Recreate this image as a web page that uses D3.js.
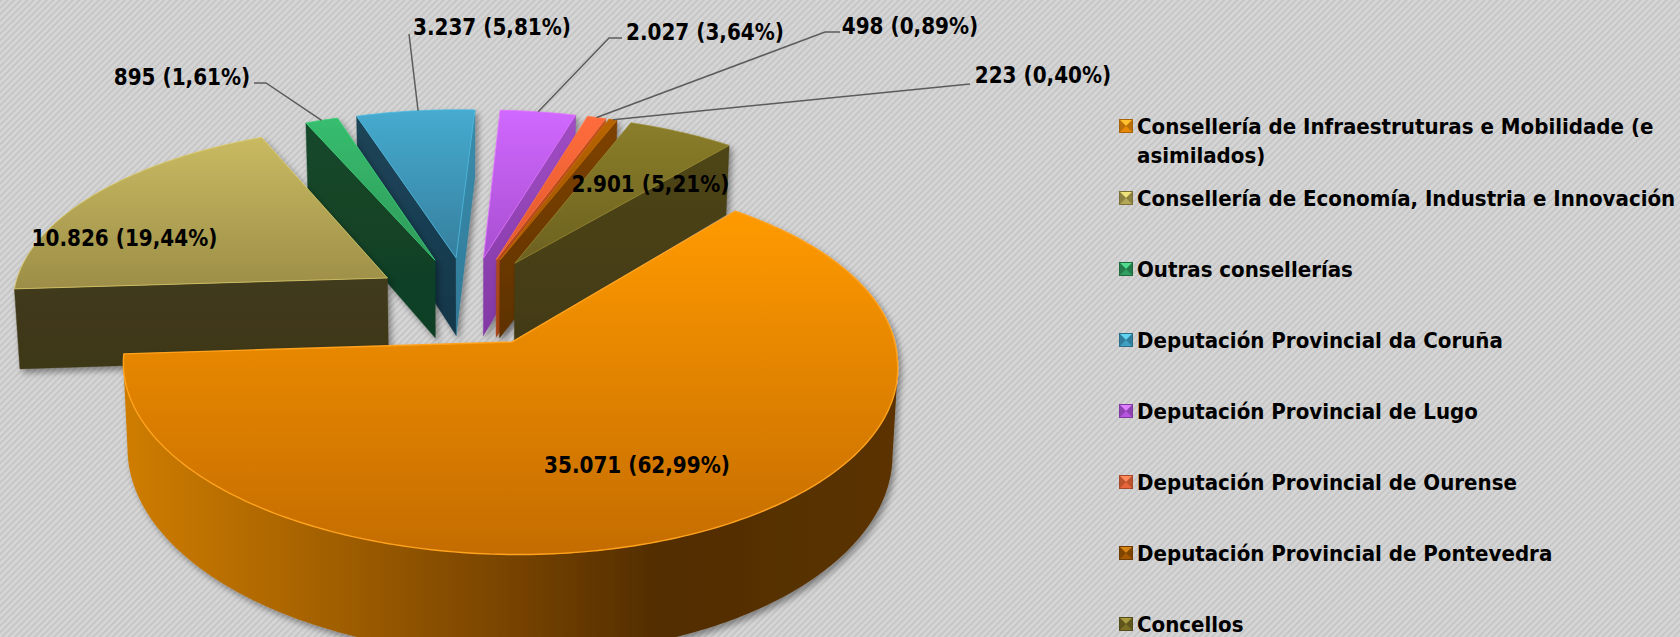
<!DOCTYPE html>
<html><head><meta charset="utf-8">
<script src="https://cdn.jsdelivr.net/npm/d3@7/dist/d3.min.js"></script>
<style>html,body{margin:0;padding:0;background:#d0d0d0;overflow:hidden}svg{display:block}
text{font-family:"DejaVu Sans";font-stretch:condensed;font-weight:700;fill:#000;font-size:22.05px}
.vl{font-size:22.25px}</style>
</head><body><svg id="c" width="1680" height="637"></svg>
<script>
const categories=["Consellería de Infraestruturas e Mobilidade (e asimilados)","Consellería de Economía, Industria e Innovación","Outras consellerías","Deputación Provincial da Coruña","Deputación Provincial de Lugo","Deputación Provincial de Ourense","Deputación Provincial de Pontevedra","Concellos"];
const values=[35071,10826,895,3237,2027,498,223,2901];
const valueLabels=["35.071 (62,99%)","10.826 (19,44%)","895 (1,61%)","3.237 (5,81%)","2.027 (3,64%)","498 (0,89%)","223 (0,40%)","2.901 (5,21%)"];
const topLight=["#ff9a00","#c9ba62","#37bd6e","#46abcf","#d068ff","#ff6c3c","#b86400","#8a7d2a"];
const topDark=["#c46c00","#9c8e47","#2f9a5a","#357f9e","#a84fd0","#e0582c","#9a5200","#6c6120"];
const wallLight=["#c87800","#403a1a","#14482a","#1c4559","#a04dc4","#c4521f","#7e4200","#4e4519"];
const wallDark=["#552f00","#3e3819","#103e24","#16374a","#8238a4","#a84418","#5e3200","#423a15"];
const endWallLight=["#c87800","#403a1a","#14482a","#3a8cad","#a04dc4","#c4521f","#7e4200","#4e4519"];
const endWallDark=["#552f00","#3e3819","#103e24","#2f7a98","#8238a4","#a84418","#5e3200","#423a15"];
const swatchTop=["#ffc22e","#f0e27a","#50dc8c","#62d4f2","#e080ff","#ff8a5c","#d88414","#a89a3e"];
const swatchMid=["#e88a08","#b3a656","#2f9e5e","#3f9fc2","#b654e0","#e8643a","#a65800","#7c7026"];
const swatchEdge=["#a86408","#7c7238","#1f6b40","#2a6f8a","#7e3a9e","#a84a2a","#6e3c00","#544c1a"];

const svg=d3.select("#c"), W=1680,H=637;
const defs=svg.append("defs");

// background
const pat=defs.append("pattern").attr("id","bg").attr("patternUnits","userSpaceOnUse").attr("width",4.6).attr("height",4.6).attr("patternTransform","rotate(-45)");
pat.append("rect").attr("width",4.6).attr("height",4.6).attr("fill","#d6d6d6");
pat.append("rect").attr("width",4.6).attr("height",2).attr("fill","#c6c6c6");
svg.append("rect").attr("width",W).attr("height",H).attr("fill","url(#bg)");

// drop shadow
const shadow=defs.append("filter").attr("id","sh").attr("x","-15%").attr("y","-15%").attr("width","130%").attr("height","130%");
shadow.append("feDropShadow").attr("dx",3).attr("dy",4).attr("stdDeviation",3).attr("flood-color","#000").attr("flood-opacity",.38);

// pie layout (clockwise from north, in world space)
const rad=d3.scaleLinear().domain([0,360]).range([0,2*Math.PI]);
const firstAngle=39.6, explode=.2546;
const pieGen=d3.pie().sort(null).startAngle(rad(firstAngle)).endAngle(rad(firstAngle+360));
const arcs=pieGen(values);

// perspective projection of the pie plane
const P={x:468,y:342,fx:387,fy:186,q:.125,t0:.227,depth:84,qd:.17,shrink:.988};
function topPt(u,v){const t=P.t0+v,d=1+P.q*t;
  const dx=u>0?u*(8*Math.max(t,-.1)-4.5):0;
  return [P.x+P.fx*u/d+dx,P.y-P.fy*t/d];}
function botPt(u,v){const t=P.t0+v,[x,y]=topPt(u,v);
  return [P.x+(x-P.x)*P.shrink,y+P.depth/(1+P.qd*t)];}
const line=d3.line();
const rimX=[123,300,500,660,895], rimCol=["#cf7d00","#a96400","#7a4500","#522d00","#5b3300"];
const rg=defs.append("linearGradient").attr("id","rim").attr("gradientUnits","userSpaceOnUse").attr("x1",rimX[0]).attr("x2",rimX[4]).attr("y1",0).attr("y2",0);
rimX.forEach((x,k)=>rg.append("stop").attr("offset",(x-rimX[0])/(rimX[4]-rimX[0])).attr("stop-color",rimCol[k]));

const slices=arcs.map((a,i)=>{
  const mid=(a.startAngle+a.endAngle)/2;
  const cu=explode*Math.sin(mid),cv=explode*Math.cos(mid);
  const n=Math.max(2,Math.ceil((a.endAngle-a.startAngle)/rad(1)));
  const rim=d3.range(n+1).map(k=>{const th=a.startAngle+(a.endAngle-a.startAngle)*k/n;return [cu+Math.sin(th),cv+Math.cos(th)];});
  return {i,a,mid,cu,cv,rim};
});
// far slices first
const order=slices.slice().sort((p,q)=>Math.cos(q.mid)-Math.cos(p.mid));

function grad(id,c1,c2){const g=defs.append("linearGradient").attr("id",id).attr("x1",0).attr("y1",0).attr("x2",0).attr("y2",1);
  g.append("stop").attr("offset",0).attr("stop-color",c1);g.append("stop").attr("offset",1).attr("stop-color",c2);return `url(#${id})`;}

const pieG=svg.append("g");
order.forEach(s=>{
  const g=pieG.append("g").attr("filter","url(#sh)");
  const i=s.i, c=[s.cu,s.cv];
  // radial walls, back-facing ones skipped
  const first=s.rim[0], last=s.rim[s.rim.length-1];
  [[c,first,grad("ws"+i,wallLight[i],wallDark[i]),wallDark[i]],[last,c,grad("we"+i,endWallLight[i],endWallDark[i]),endWallDark[i]]].forEach(([A,B,fill,edge])=>{
    const q=[topPt(...A),topPt(...B),botPt(...B),botPt(...A)];
    if(d3.polygonArea(q)>0) g.append("path").attr("d",line(q)+"Z").attr("fill",fill).attr("stroke",edge).attr("stroke-width",.4);
  });
  // outer rim: the run of arc that faces the viewer
  const vis=s.rim.filter((p,k)=>{
    const a=topPt(...p), b=k<s.rim.length-1?topPt(...s.rim[k+1]):null, z=k>0?topPt(...s.rim[k-1]):null;
    return (b&&b[0]<a[0])||(z&&a[0]<z[0]);
  });
  if(vis.length>1){
    const q=[...vis.map(p=>topPt(...p)),...vis.slice().reverse().map(p=>botPt(...p))];
    g.append("path").attr("d",line(q)+"Z").attr("fill",i===0?"url(#rim)":wallLight[i]);
  }
  // top face
  const face=[topPt(...c),...s.rim.map(p=>topPt(...p))];
  g.append("path").attr("d",line(face)+"Z").attr("fill",grad("t"+i,topLight[i],topDark[i]))
    .attr("stroke",i===0?"#ffa21e":d3.color(topLight[i]).brighter(.25)).attr("stroke-width",i===0?1.4:.8).attr("stroke-linejoin","round");
});

// leader lines: from the slice rim to the label
const rimPoint=i=>{const s=slices[i],m=s.rim[Math.floor(s.rim.length/2)];return topPt(m[0],m[1]);};
const leaders=[{i:2,via:[[266,83],[254,83]]},{i:3,via:[[409,34]]},{i:4,via:[[609,38],[622,38]]},{i:5,via:[[825,32],[840,32]]},{i:6,via:[[970,84]]}];
leaders.forEach(l=>{svg.append("path").attr("d",line([rimPoint(l.i),...l.via])).attr("fill","none").attr("stroke","#5c5c5c").attr("stroke-width",1.5);});

// value labels
const labelPos=[[637,464.5],[124.5,237.5],[182,76.5],[492,26.5],[705,31.5],[910,25.5],[1043,74.5],[650.5,183.5]];
svg.append("g").selectAll("text").data(valueLabels).join("text").attr("class","vl")
  .attr("x",(d,i)=>labelPos[i][0]).attr("y",(d,i)=>labelPos[i][1]).attr("dy",".36em").attr("text-anchor","middle").text(d=>d);

// legend
const legendLines=[["Consellería de Infraestruturas e Mobilidade (e","asimilados)"],[categories[1]],[categories[2]],[categories[3]],[categories[4]],[categories[5]],[categories[6]],[categories[7]]];
const legendY=d3.scaleLinear().domain([1,7]).range([198,624]);
const lg=svg.append("g");
legendLines.forEach((ls,i)=>{
  const y=i===0?126:legendY(i), x0=1119, s=14, m=y-7;
  const g=lg.append("g");
  g.append("rect").attr("x",x0).attr("y",m).attr("width",s).attr("height",s).attr("fill",swatchMid[i]);
  g.append("path").attr("d",line([[x0,m],[x0+s,m],[x0+s/2,m+s/2]])+"Z").attr("fill",swatchTop[i]);
  g.append("path").attr("d",line([[x0,m],[x0+s/2,m+s/2],[x0,m+s]])+"Z").attr("fill",swatchEdge[i]).attr("opacity",.7);
  g.append("path").attr("d",line([[x0+s,m],[x0+s/2,m+s/2],[x0+s,m+s]])+"Z").attr("fill",swatchEdge[i]).attr("opacity",.7);
  g.append("rect").attr("x",x0+.5).attr("y",m+.5).attr("width",s-1).attr("height",s-1).attr("fill","none").attr("stroke",swatchEdge[i]);
  ls.forEach((t,k)=>g.append("text").attr("x",1137).attr("y",y+k*29).attr("dy",".36em").text(t));
});
</script></body></html>
